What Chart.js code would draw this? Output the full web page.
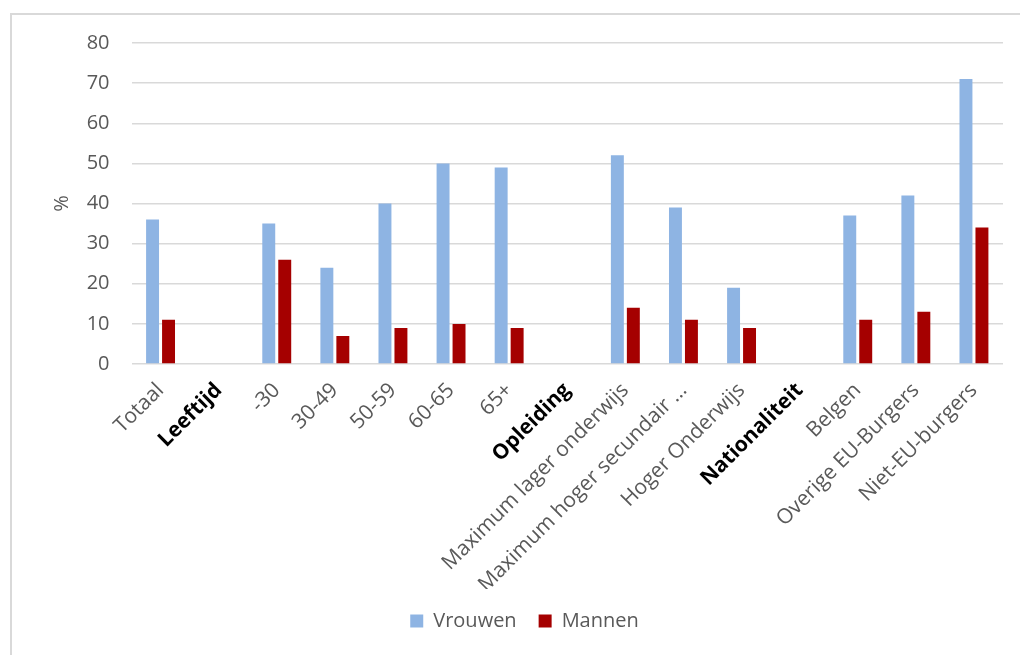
<!DOCTYPE html>
<html>
<head>
<meta charset="utf-8">
<script src="https://cdn.jsdelivr.net/npm/chart.js@4/dist/chart.umd.min.js"></script>
<style>
  html, body { margin: 0; padding: 0; background: #fff; }
  #wrap { position: relative; width: 1020px; height: 655px; }
</style>
</head>
<body>
<div id="wrap"><canvas id="c" width="1020" height="655"></canvas></div>
<script>
const categories = [
  'Totaal', 'Leeftijd', '-30', '30-49', '50-59', '60-65', '65+',
  'Opleiding', 'Maximum lager onderwijs', 'Maximum hoger secundair …', 'Hoger Onderwijs',
  'Nationaliteit', 'Belgen', 'Overige EU-Burgers', 'Niet-EU-burgers'
];
const headingLabels = ['Leeftijd', 'Opleiding', 'Nationaliteit'];
const vrouwen = [36, null, 35, 24, 40, 50, 49, null, 52, 39, 19, null, 37, 42, 71];
const mannen  = [11, null, 26, 7, 9, 10, 9, null, 14, 11, 9, null, 11, 13, 34];
const yTicks = [0, 10, 20, 30, 40, 50, 60, 70, 80];

const FONT = "'Open Sans', 'Noto Sans', sans-serif";
const GREY = '#595959';

const framePlugin = {
  id: 'frame',
  beforeDraw(chart) {
    const ctx = chart.ctx;
    ctx.save();
    ctx.fillStyle = '#d9d9d9';
    ctx.fillRect(10, 13, 2, 642);
    ctx.fillRect(10, 13, 1010, 2);
    ctx.restore();
  }
};

new Chart(document.getElementById('c'), {
  type: 'bar',
  data: {
    labels: categories,
    datasets: [
      { label: 'Vrouwen', data: vrouwen, backgroundColor: '#8EB4E3',
        categoryPercentage: 0.55, barPercentage: 0.81 },
      { label: 'Mannen', data: mannen, backgroundColor: '#A50000',
        categoryPercentage: 0.55, barPercentage: 0.81 }
    ]
  },
  options: {
    responsive: false,
    animation: false,
    layout: { padding: { left: 46, right: 17, top: 43, bottom: 14 } },
    plugins: {
      legend: {
        position: 'bottom',
        labels: {
          boxWidth: 13, boxHeight: 13, padding: 22,
          color: GREY, font: { family: FONT, size: 20 }
        }
      },
      tooltip: { enabled: false }
    },
    scales: {
      x: {
        grid: { display: false },
        border: { display: false },
        afterFit(scale) { scale.height = 225; },
        ticks: {
          autoSkip: false, maxRotation: 45, minRotation: 45, padding: 6,
          color: ctx => headingLabels.includes(categories[ctx.index]) ? '#000' : GREY,
          font: ctx => ({ family: FONT, size: 21,
            weight: headingLabels.includes(categories[ctx.index]) ? 'bold' : 'normal' })
        }
      },
      y: {
        min: 0, max: 80,
        afterBuildTicks(scale) { scale.ticks = yTicks.map(v => ({ value: v })); },
        afterFit(scale) { scale.width = 85.5; },
        grid: { color: '#d9d9d9', lineWidth: 1.5, drawTicks: false },
        border: { display: false },
        ticks: { padding: 22, color: GREY, font: { family: FONT, size: 20 } },
        title: { display: true, text: '%', color: GREY, font: { family: FONT, size: 20 } }
      }
    }
  },
  plugins: [framePlugin]
});
</script>
</body>
</html>
